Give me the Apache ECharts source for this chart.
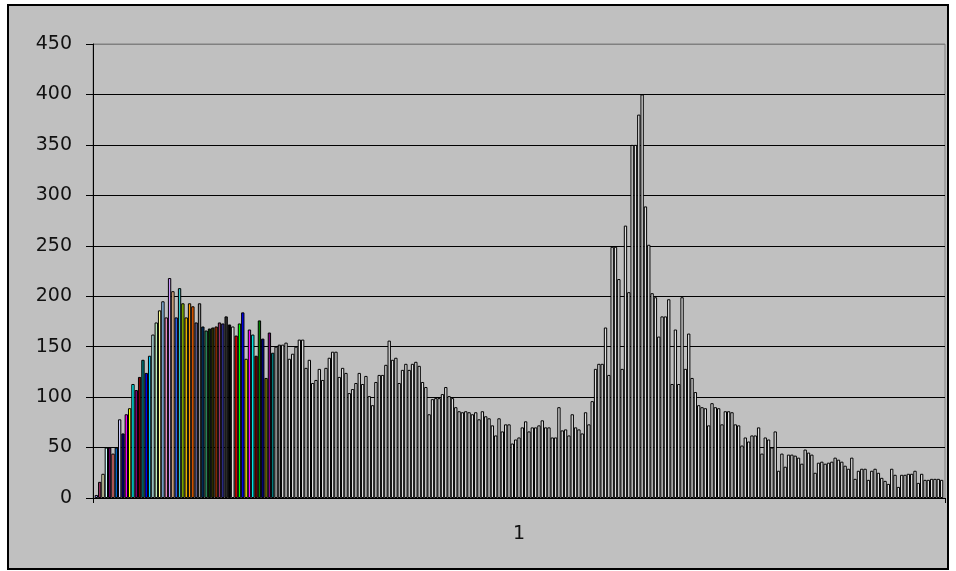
<!DOCTYPE html>
<html>
<head>
<meta charset="utf-8">
<script src="https://cdn.jsdelivr.net/npm/echarts@6/dist/echarts.min.js"></script>
<style>
  html, body { margin: 0; padding: 0; background: #fff; }
  #chart { width: 956px; height: 571px; }
</style>
</head>
<body>
<div id="chart"></div>
<script>
// one category, one bar per series (Excel style clustered column)
const categories = ['1'];

const values = [
  3, 16, 24, 50, 50, 44, 50, 78, 64, 83,
  89, 113, 107, 120, 137, 124, 141, 162, 174, 186,
  195, 179, 218, 205, 179, 208, 193, 179, 193, 190,
  174, 193, 170, 166, 168, 169, 170, 174, 173, 180,
  172, 170, 161, 173, 184, 138, 167, 162, 141, 176,
  158, 119, 164, 144, 150, 152, 152, 154, 138, 143,
  150, 157, 157, 129, 137, 114, 117, 128, 117, 129,
  139, 145, 145, 120, 129, 124, 104, 108, 114, 124,
  113, 121, 101, 92, 115, 122, 122, 132, 156, 137,
  139, 114, 127, 133, 127, 133, 135, 131, 115, 110,
  83, 98, 99, 99, 103, 110, 101, 99, 90, 86,
  85, 86, 85, 83, 85, 78, 86, 81, 79, 72,
  62, 79, 66, 73, 73, 54, 58, 60, 70, 76,
  66, 70, 70, 72, 77, 70, 70, 60, 60, 90,
  67, 68, 62, 83, 70, 68, 64, 85, 73, 96,
  128, 133, 133, 169, 122, 249, 249, 217, 128, 270,
  204, 350, 350, 380, 400, 289, 251, 203, 199, 160,
  180, 180, 197, 113, 167, 113, 199, 128, 163, 119,
  105, 92, 90, 89, 72, 94, 90, 89, 73, 86,
  86, 85, 73, 72, 52, 60, 56, 62, 62, 70,
  44, 60, 58, 50, 66, 27, 44, 31, 43, 43,
  42, 40, 34, 48, 45, 43, 25, 35, 36, 34,
  35, 36, 40, 38, 36, 32, 29, 40, 19, 27,
  29, 29, 18, 27, 29, 25, 20, 17, 14, 29,
  23, 11, 23, 23, 24, 24, 27, 15, 24, 18,
  18, 19, 19, 19, 18
];

// Excel 2003 default series fills, in order of use
const palette = [
  '#9999FF', '#993366', '#FFFFCC', '#CCFFFF', '#660066', '#FF8080', '#0066CC', '#CCCCFF',
  '#000080', '#FF00FF', '#FFFF00', '#00FFFF', '#800080', '#800000', '#008080', '#0000FF',
  '#00CCFF', '#CCFFFF', '#CCFFCC', '#FFFF99', '#99CCFF', '#FF99CC', '#CC99FF', '#FFCC99',
  '#3366FF', '#33CCCC', '#99CC00', '#FFCC00', '#FF9900', '#FF6600', '#666699', '#969696',
  '#003366', '#339966', '#003300', '#333300', '#993300', '#993366', '#333399', '#333333',
  '#000000', '#FFFFFF', '#FF0000', '#00FF00', '#0000FF', '#FFFF00', '#FF00FF', '#00FFFF',
  '#800000', '#008000', '#000080', '#808000', '#800080', '#008080', '#C0C0C0', '#808080'
];
const restFill = '#e0e0e0';

const chart = echarts.init(document.getElementById('chart'));

const series = values.map((v, i) => ({
  type: 'bar',
  name: 'Series' + (i + 1),
  data: [v],
  barGap: '0%',
  barCategoryGap: '0.4%',
  silent: true,
  itemStyle: {
    color: palette[i] || restFill,
    borderColor: '#000',
    borderWidth: 1
  }
}));

const gridColors = ['#000', '#000', '#000', '#000', '#000', '#000', '#000', '#000', '#000', '#808080'];

chart.setOption({
  animation: false,
  backgroundColor: '#fff',
  graphic: [{
    type: 'rect',
    z: -10,
    silent: true,
    shape: { x: 8, y: 5, width: 940, height: 564 },
    style: { fill: '#c0c0c0', stroke: '#000', lineWidth: 2 }
  }],
  grid: {
    left: 93, right: 11, top: 44, bottom: 73,
    show: true,
    backgroundColor: 'transparent',
    borderColor: '#808080',
    borderWidth: 1
  },
  xAxis: {
    type: 'category',
    data: categories,
    axisLine: { lineStyle: { color: '#000', width: 1 } },
    axisTick: { show: true, length: 5, lineStyle: { color: '#000' } },
    axisLabel: {
      color: '#111',
      fontFamily: 'DejaVu Sans',
      fontSize: 19,
      margin: 27
    }
  },
  yAxis: {
    type: 'value',
    min: 0,
    max: 450,
    interval: 50,
    axisLine: { show: true, lineStyle: { color: '#000', width: 1 } },
    axisTick: { show: true, length: 7, lineStyle: { color: '#000' } },
    axisLabel: {
      color: '#111',
      fontFamily: 'DejaVu Sans',
      fontSize: 19,
      margin: 21
    },
    splitLine: { show: true, lineStyle: { color: gridColors, width: 1 } }
  },
  series: series
});
</script>
</body>
</html>
